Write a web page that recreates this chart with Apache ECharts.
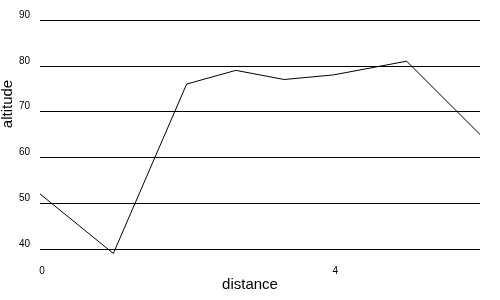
<!DOCTYPE html>
<html>
<head>
<meta charset="utf-8">
<script src="https://cdn.jsdelivr.net/npm/echarts@6/dist/echarts.min.js"></script>
<style>html,body{margin:0;padding:0;background:#fff}#c{width:500px;height:300px}</style>
</head>
<body>
<div id="c"></div>
<script>
var distance = [0, 1, 2, 2.67, 3.33, 4, 5, 6];
var altitude = [52, 39, 76, 79, 77, 78, 81, 65];
var xTicks = [0, 4];
var yTicks = [40, 50, 60, 70, 80, 90];

var chart = echarts.init(document.getElementById('c'), null, {renderer: 'canvas'});
var font = 'Liberation Sans, Arial, sans-serif';
chart.setOption({
  animation: false,
  backgroundColor: '#fff',
  grid: {left: 40, right: 20, top: 20, bottom: 42, containLabel: false, outerBoundsMode: 'none'},
  xAxis: {
    type: 'value', min: 0, max: 6, interval: 4,
    name: 'distance', nameLocation: 'middle', nameGap: 19, nameMoveOverlap: false,
    nameTextStyle: {fontSize: 15, color: '#000', fontFamily: font, padding: [0, 20, 0, 0]},
    axisLine: {show: false}, axisTick: {show: false}, splitLine: {show: false},
    axisLabel: {fontSize: 10, color: '#000', fontFamily: font, margin: 8, showMaxLabel: false,
      padding: [0, 0, 0, 4],
      formatter: function (v) { return xTicks.indexOf(v) >= 0 ? String(v) : ''; }}
  },
  yAxis: {
    type: 'value', min: 38, max: 90, splitNumber: 5, minInterval: 10, maxInterval: 10,
    name: 'altitude', nameLocation: 'middle', nameGap: 25, nameMoveOverlap: false,
    nameTextStyle: {fontSize: 15, color: '#000', fontFamily: font, padding: [0, 0, 0, 70]},
    axisLine: {show: false}, axisTick: {show: false},
    splitLine: {show: true, showMinLine: false, lineStyle: {color: '#000', width: 1}},
    axisLabel: {fontSize: 10, color: '#000', fontFamily: font, margin: 10, verticalAlign: 'bottom', showMinLabel: false,
      formatter: function (v) { return yTicks.indexOf(v) >= 0 ? String(v) : ''; }}
  },
  series: [{
    type: 'line',
    data: distance.map(function (d, i) { return [d, altitude[i]]; }),
    showSymbol: false, symbol: 'none',
    lineStyle: {color: '#000', width: 1}
  }]
});
</script>
</body>
</html>
